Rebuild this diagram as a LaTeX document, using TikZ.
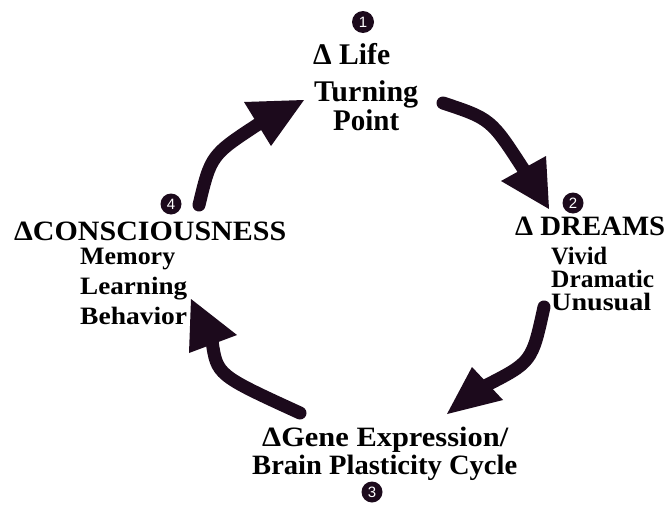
\documentclass[tikz,border=0pt]{standalone}
\usepackage{fontspec}
\setmainfont{Liberation Serif}
\newfontfamily\numfont{Liberation Sans}
\usepackage{graphicx}
\definecolor{ink}{RGB}{28,10,28}
\newcommand{\fitw}[2]{\resizebox{#1pt}{\height}{#2}}
\newcommand{\fsz}[1]{\fontsize{#1}{#1}\selectfont}
\begin{document}
\begin{tikzpicture}[x=1pt,y=-1pt,
  lbl/.style={anchor=base west, inner sep=0pt, text=black},
  num/.style={circle, fill=ink, text=white, minimum size=21pt, inner sep=0pt, font=\numfont\fsz{15}},
  shaft/.style={draw=ink, line width=13pt, line cap=round},
  head/.style={fill=ink}]
\useasboundingbox[fill=white] (0,0) rectangle (667,506);

% numbered markers
\node[num, minimum size=22pt] (n1) at (363,22) {1};
\node[num] (n2) at (573,203) {2};
\node[num] (n3) at (372,492) {3};
\node[num] (n4) at (171,204) {4};

% top group
\node[lbl, font=\bfseries\fsz{30}] (t1a) at (313,64) {\fitw{77}{Δ Life}};
\node[lbl, font=\bfseries\fsz{30}] (t1b) at (314,101) {\fitw{104}{Turning}};
\node[lbl, font=\bfseries\fsz{30}] (t1c) at (333,130) {\fitw{66}{Point}};

% right group
\node[lbl, font=\bfseries\fsz{28}] (t2a) at (515,235) {\fitw{150}{Δ DREAMS}};
\node[lbl, font=\bfseries\fsz{25}] (t2b) at (551,264) {\fitw{56}{Vivid}};
\node[lbl, font=\bfseries\fsz{25}] (t2c) at (551,287) {\fitw{103}{Dramatic}};
\node[lbl, font=\bfseries\fsz{25}] (t2d) at (551,310) {\fitw{100}{Unusual}};

% bottom group
\node[lbl, font=\bfseries\fsz{28}] (t3a) at (262,446) {\fitw{246}{ΔGene Expression/}};
\node[lbl, font=\bfseries\fsz{28}] (t3b) at (252,474) {\fitw{265}{Brain Plasticity Cycle}};

% left group
\node[lbl, font=\bfseries\fsz{28}] (t4a) at (14,240) {\fitw{272}{ΔCONSCIOUSNESS}};
\node[lbl, font=\bfseries\fsz{25}] (t4b) at (80,264) {\fitw{95}{Memory}};
\node[lbl, font=\bfseries\fsz{25}] (t4c) at (80,294) {\fitw{107}{Learning}};
\node[lbl, font=\bfseries\fsz{25}] (t4d) at (80,324) {\fitw{107}{Behavior}};

% arrow 4 -> 1
\coordinate (a1s) at (199,205); \coordinate (a1c) at (211,155); \coordinate (a1e) at (260,123);
\coordinate (a1p) at (244,102); \coordinate (a1t) at (304,100); \coordinate (a1q) at (271,146);
\draw[shaft] (a1s) .. controls (a1c) .. (a1e);
\fill[head] (a1p) -- (a1t) -- (a1q) -- cycle;

% arrow 1 -> 2
\coordinate (a2s) at (443,103); \coordinate (a2c) at (491,119); \coordinate (a2e) at (524,170);
\coordinate (a2p) at (501,181); \coordinate (a2t) at (549,209); \coordinate (a2q) at (546,156);
\draw[shaft] (a2s) .. controls (a2c) .. (a2e);
\fill[head] (a2p) -- (a2t) -- (a2q) -- cycle;

% arrow 2 -> 3
\coordinate (a3s) at (544,307); \coordinate (a3c) at (532,362); \coordinate (a3e) at (485,386);
\coordinate (a3p) at (472,367); \coordinate (a3t) at (447,414); \coordinate (a3q) at (503,400);
\draw[shaft] (a3s) .. controls (a3c) .. (a3e);
\fill[head] (a3p) -- (a3t) -- (a3q) -- cycle;

% arrow 3 -> 4
\coordinate (a4s) at (300,413); \coordinate (a4c) at (217,375); \coordinate (a4e) at (212,341);
\coordinate (a4p) at (237,335); \coordinate (a4t) at (191,299); \coordinate (a4q) at (189,353);
\draw[shaft] (a4s) .. controls (a4c) .. (a4e);
\fill[head] (a4p) -- (a4t) -- (a4q) -- cycle;
\end{tikzpicture}
\end{document}
